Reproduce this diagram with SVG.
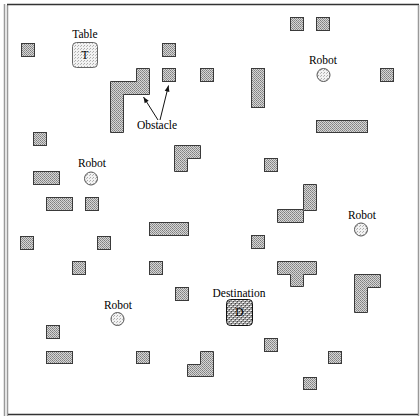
<svg xmlns="http://www.w3.org/2000/svg" width="420" height="418" viewBox="0 0 420 418">
<style>
.ob{fill:url(#obs);stroke:#3a3a3a;stroke-width:1}
.rb{fill:url(#lite);stroke:#555;stroke-width:1}
.lb{font-family:"Liberation Serif","Times New Roman",serif;font-size:11.5px;fill:#000;text-anchor:middle}
.ar{stroke:#111;stroke-width:1;fill:none}
</style>
<defs>
<pattern id="obs" patternUnits="userSpaceOnUse" width="4" height="4">
<rect width="4" height="4" fill="#d6d6d6"/>
<rect x="0" y="0" width="1" height="1" fill="#7a7a7a"/>
<rect x="2" y="0" width="1" height="1" fill="#8a8a8a"/>
<rect x="1" y="1" width="1" height="1" fill="#8a8a8a"/>
<rect x="3" y="1" width="1" height="1" fill="#9a9a9a"/>
<rect x="0" y="2" width="1" height="1" fill="#8a8a8a"/>
<rect x="2" y="2" width="1" height="1" fill="#7a7a7a"/>
<rect x="1" y="3" width="1" height="1" fill="#9a9a9a"/>
<rect x="3" y="3" width="1" height="1" fill="#8a8a8a"/>
</pattern>
<pattern id="lite" patternUnits="userSpaceOnUse" width="3" height="3">
<rect width="3" height="3" fill="#f2f2f2"/>
<rect x="0" y="0" width="1" height="1" fill="#aaa"/>
<rect x="2" y="1" width="1" height="1" fill="#bbb"/>
</pattern>
<pattern id="dest" patternUnits="userSpaceOnUse" width="4" height="4">
<rect width="4" height="4" fill="#999"/>
<rect x="0" y="0" width="2" height="1" fill="#eee"/>
<rect x="2" y="2" width="2" height="1" fill="#eee"/>
<rect x="1" y="1" width="1" height="1" fill="#444"/>
<rect x="3" y="3" width="1" height="1" fill="#444"/>
</pattern>
<marker id="ah" viewBox="0 0 10 10" refX="10" refY="5" markerWidth="8" markerHeight="6" orient="auto" markerUnits="userSpaceOnUse">
<path d="M0,1 L10,5 L0,9 Z" fill="#111"/>
</marker>
</defs>
<rect width="420" height="418" fill="#fff"/>
<g id="frame" fill="none">
<line x1="4.5" y1="4" x2="4.5" y2="416" stroke="#999" stroke-width="1.5"/>
<line x1="7.5" y1="5" x2="7.5" y2="416" stroke="#999" stroke-width="1.5"/>
<line x1="7" y1="4.5" x2="419" y2="4.5" stroke="#333" stroke-width="1.5"/>
<line x1="418.5" y1="5" x2="418.5" y2="416" stroke="#999" stroke-width="1.5"/>
<line x1="8" y1="414.5" x2="418" y2="414.5" stroke="#333" stroke-width="1.5"/>
</g>
<g id="obstacles">
<rect class="ob" x="21.5" y="43.5" width="13" height="13"/>
<rect class="ob" x="162.5" y="43.5" width="13" height="13"/>
<rect class="ob" x="162.5" y="68.5" width="13" height="13"/>
<rect class="ob" x="200.5" y="68.5" width="13" height="13"/>
<path class="ob" d="M136.5,68.5 H149.5 V94.5 H123.5 V132.5 H110.5 V81.5 H136.5 Z"/>
<rect class="ob" x="290.5" y="17.5" width="13" height="13"/>
<rect class="ob" x="316.5" y="17.5" width="13" height="13"/>
<rect class="ob" x="251.5" y="68.5" width="13" height="39"/>
<rect class="ob" x="380.5" y="68.5" width="13" height="13"/>
<rect class="ob" x="316.5" y="120.5" width="51" height="12"/>
<rect class="ob" x="33.5" y="132.5" width="13" height="13"/>
<path class="ob" d="M174.5,145.5 H200.5 V158.5 H187.5 V171.5 H174.5 Z"/>
<rect class="ob" x="33.5" y="171.5" width="26" height="13"/>
<rect class="ob" x="264.5" y="158.5" width="13" height="13"/>
<rect class="ob" x="46.5" y="197.5" width="26" height="13"/>
<rect class="ob" x="85.5" y="197.5" width="13" height="13"/>
<path class="ob" d="M303.5,184.5 H316.5 V210.5 H303.5 V222.5 H277.5 V209.5 H303.5 Z"/>
<rect class="ob" x="149.5" y="222.5" width="39" height="13"/>
<rect class="ob" x="20.5" y="236.5" width="13" height="13"/>
<rect class="ob" x="97.5" y="236.5" width="13" height="13"/>
<rect class="ob" x="251.5" y="235.5" width="13" height="13"/>
<rect class="ob" x="72.5" y="261.5" width="13" height="13"/>
<rect class="ob" x="149.5" y="261.5" width="13" height="13"/>
<path class="ob" d="M277.5,261.5 H316.5 V274.5 H303.5 V286.5 H290.5 V274.5 H277.5 Z"/>
<path class="ob" d="M354.5,274.5 H380.5 V287.5 H367.5 V312.5 H354.5 Z"/>
<rect class="ob" x="175.5" y="287.5" width="13" height="13"/>
<rect class="ob" x="46.5" y="325.5" width="13" height="13"/>
<rect class="ob" x="264.5" y="338.5" width="13" height="13"/>
<rect class="ob" x="46.5" y="351.5" width="26" height="12"/>
<rect class="ob" x="136.5" y="351.5" width="13" height="12"/>
<path class="ob" d="M200.5,351.5 H213.5 V376.5 H187.5 V364.5 H200.5 Z"/>
<rect class="ob" x="328.5" y="351.5" width="13" height="12"/>
<rect class="ob" x="303.5" y="377.5" width="13" height="12"/>
</g>
<g id="table">
<rect x="72.5" y="42.5" width="25" height="25" rx="4" fill="url(#lite)" stroke="#666" stroke-width="1"/>
<text class="lb" x="85" y="38">Table</text>
<text class="lb" x="85" y="59" font-size="10px">T</text>
</g>
<g id="robot1">
<text class="lb" x="323" y="64">Robot</text>
<circle class="rb" cx="323.5" cy="75" r="6.5"/>
</g>
<g id="robot2">
<text class="lb" x="92" y="167">Robot</text>
<circle class="rb" cx="91" cy="178.5" r="6.5"/>
</g>
<g id="robot3">
<text class="lb" x="362" y="219">Robot</text>
<circle class="rb" cx="361" cy="229.5" r="6.5"/>
</g>
<g id="robot4">
<text class="lb" x="118" y="309">Robot</text>
<circle class="rb" cx="117.5" cy="319" r="6.5"/>
</g>
<g id="destination">
<text class="lb" x="239" y="297">Destination</text>
<rect x="226.5" y="299.5" width="26" height="26" rx="4" fill="url(#dest)" stroke="#111" stroke-width="1"/>
<text class="lb" x="239.5" y="316" font-size="10px">D</text>
</g>
<g id="obstacle-label">
<text class="lb" x="157" y="129">Obstacle</text>
</g>
<g id="connectors">
<line class="ar" x1="158" y1="120" x2="143.5" y2="97" marker-end="url(#ah)"/>
<line class="ar" x1="160" y1="120" x2="168.5" y2="85.5" marker-end="url(#ah)"/>
</g>
</svg>
